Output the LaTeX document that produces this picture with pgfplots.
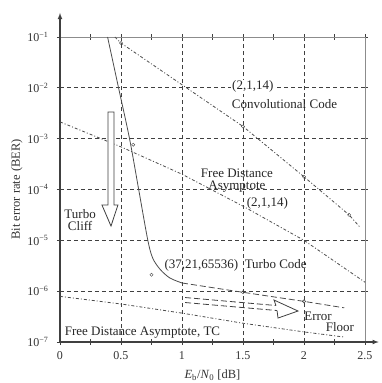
\documentclass[border=0pt]{standalone}
\usepackage{pgfplots}
\pgfplotsset{compat=1.18}
\usepackage{fontspec}
\setmainfont{Liberation Serif}
\begin{document}
\begin{tikzpicture}
\begin{axis}[
  scale only axis, width=305pt, height=305pt,
  ymode=log, xmin=0, xmax=2.5, ymin=1e-7, ymax=1e-1,
  clip=false,
  axis line style={draw=black!45, line width=0.5pt},
  xtick={0,0.5,1,1.5,2,2.5},
  xticklabels={0,0.5,1,1.5,2,2.5},
  minor xtick={0.25,0.75,1.25,1.75,2.25},
  ytick={1e-7,1e-6,1e-5,1e-4,1e-3,1e-2,1e-1},
  yticklabels={10\textsuperscript{−7},10\textsuperscript{−6},10\textsuperscript{−5},10\textsuperscript{−4},10\textsuperscript{−3},10\textsuperscript{−2},10\textsuperscript{−1}},
  yminorticks=false,
  tick align=center,
  major tick length=6pt, minor tick length=6pt,
  tick style={black!75, line width=0.8pt},
  ticklabel style={font=\fontsize{12}{12}\selectfont, text=black!80},
  xticklabel style={yshift=-3pt},
  yticklabel style={xshift=-5pt},
  grid=major,
  major grid style={black!75, line width=0.8pt, dash pattern=on 4pt off 3pt},
  xlabel={\textit{E}\textsubscript{b}/\textit{N}\textsubscript{0} [dB]},
  ylabel={Bit error rate (BER)},
  every axis x label/.style={at={(axis description cs:0.5,-0.108)},anchor=center,font=\fontsize{12.5}{13}\selectfont,text=black!80},
  every axis y label/.style={at={(axis description cs:-0.141,0.5)},rotate=90,anchor=center,font=\fontsize{12.5}{13}\selectfont,text=black!80},
]
% thick left / bottom axes with arrows
\draw[black!75, line width=1.1pt, -latex] (rel axis cs:0,0) -- (rel axis cs:0,1.079);
\draw[black!75, line width=1.1pt, -latex] (rel axis cs:0,0) -- (rel axis cs:1.045,0);
\coordinate (bl) at (rel axis cs:0,0);

% Convolutional code (2,1,14)
\addplot[black!70, line width=0.8pt, dash pattern=on 3pt off 2pt on 1pt off 2pt] coordinates {
 (0.45,1e-1) (0.5,7.6e-2) (1.0,1.15e-2) (1.5,1.74e-3) (2.0,1.78e-4) (2.37,3.16e-5) (2.46,1.8e-5)};
\addplot[only marks, mark=o, mark size=1.6pt, black!75] coordinates {
 (0.5,7.6e-2) (1.5,1.74e-3) (2.0,1.78e-4) (2.37,3.16e-5)};

% Free distance asymptote (2,1,14)
\addplot[black!70, line width=0.8pt, dash pattern=on 3pt off 2pt on 1pt off 2pt] coordinates {
 (0,2.14e-3) (0.5,6.9e-4) (1,2.0e-4) (1.5,4.7e-5) (2,1.0e-5) (2.5,1.5e-6)};

% Turbo code (37,21,65536)
\addplot[black!70, line width=0.8pt, smooth] coordinates {
 (0.39,1e-1) (0.48,1e-2) (0.57,1e-3) (0.645,1e-4) (0.72,1e-5) (0.76,4.47e-6) (0.82,2.7e-6) (0.9,1.82e-6) (1.0,1.45e-6)};
\addplot[black!70, line width=0.8pt, dash pattern=on 6pt off 3pt] coordinates {
 (1.0,1.45e-6) (1.5,9.5e-7) (2,6.3e-7) (2.33,4.7e-7)};
\addplot[only marks, mark=o, mark size=1.6pt, black!75] coordinates {
 (0.6,7.6e-4) (0.75,2.1e-6) (1.5,9.5e-7) (2,6.3e-7)};

% Free distance asymptote TC
\addplot[black!70, line width=0.8pt, dash pattern=on 3pt off 2pt on 1pt off 2pt] coordinates {
 (0,7.9e-7) (0.5,5.6e-7) (1,3.7e-7) (1.5,2.34e-7) (2,1.58e-7) (2.32,1.26e-7)};

% Turbo cliff arrow
\draw[black!75, line width=0.8pt, fill=white]
 (axis cs:0.393,3.35e-3) -- (axis cs:0.443,3.35e-3) -- (axis cs:0.443,4.95e-5) -- (axis cs:0.475,4.95e-5)
 -- (axis cs:0.418,1.91e-5) -- (axis cs:0.344,4.95e-5) -- (axis cs:0.393,4.95e-5) -- cycle;
% Error floor arrow
\draw[black!75, line width=0.8pt, fill=white, dash pattern=on 6pt off 3pt]
 (axis cs:1.025,7.5e-7) -- (axis cs:1.770,5.22e-7);
\draw[black!75, line width=0.8pt, dash pattern=on 6pt off 3pt]
 (axis cs:1.025,5.98e-7) -- (axis cs:1.779,4.16e-7);
\draw[black!75, line width=0.8pt, fill=white]
 (axis cs:1.770,5.22e-7) -- (axis cs:1.754,6.7e-7) -- (axis cs:1.951,4.07e-7) -- (axis cs:1.787,2.96e-7) -- (axis cs:1.779,4.16e-7);

% labels
\tikzset{lab/.style={font=\fontsize{13}{14}\selectfont, text=black!85, inner sep=1pt}}
\node[lab, fill=white] at (axis cs:1.58,1.05e-2) {(2,1,14)};
\node[lab] at (axis cs:1.84,4.8e-3) {Convolutional Code};
\node[lab, align=center] at (axis cs:1.45,1.48e-4) {Free Distance\\[-2pt]Asymptote};
\node[lab] at (axis cs:1.70,5.4e-5) {(2,1,14)};
\node[lab] at (axis cs:1.44,3.16e-6) {(37,21,65536)\ \ Turbo Code};
\node[lab, align=center] at (axis cs:0.165,2.5e-5) {Turbo\\[-2pt]Cliff};
\node[lab] at (axis cs:2.115,3.2e-7) {Error};
\node[lab] at (axis cs:2.295,1.95e-7) {Floor};
\node[lab, anchor=west] at (axis cs:0.03,1.5e-7) {Free Distance Asymptote, TC};
\end{axis}
\pgfresetboundingbox
\path[use as bounding box] ([shift={(-60pt,-41pt)}]bl) rectangle ([shift={(321pt,342pt)}]bl);
\end{tikzpicture}
\end{document}
